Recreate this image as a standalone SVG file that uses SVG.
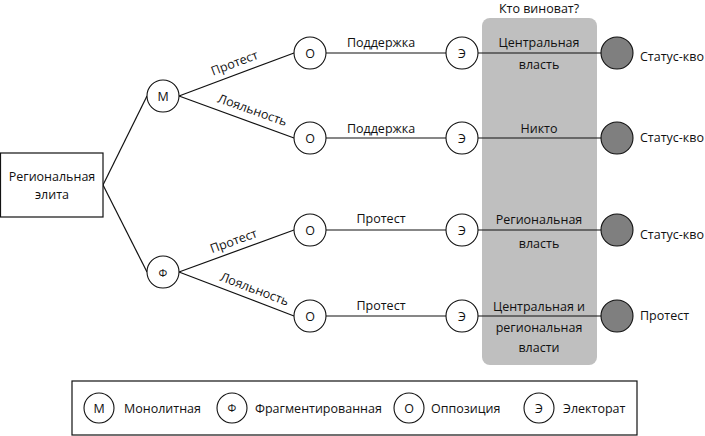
<svg xmlns="http://www.w3.org/2000/svg" width="705" height="436" viewBox="0 0 705 436">
<style>
text{font-family:"Open Sans","Noto Sans","DejaVu Sans",sans-serif;font-size:12.5px;fill:#111}
.c{text-anchor:middle}
.n{fill:#fff;stroke:#111;stroke-width:1.1}
.d{fill:#7f7f7f;stroke:#111;stroke-width:1.1}
.l{stroke:#111;stroke-width:1.2;fill:none}
</style>
<rect x="0" y="0" width="705" height="436" fill="#fff"/>
<g id="panel">
<rect x="482" y="18" width="115" height="347" rx="8" fill="#bfbfbf"/>
<text class="c" x="539" y="13">Кто виноват?</text>
</g>
<g id="connectors">
<line class="l" x1="103" y1="185" x2="147" y2="96"/>
<line class="l" x1="103" y1="185" x2="147" y2="272"/>
<line class="l" x1="179" y1="96" x2="294" y2="53"/>
<line class="l" x1="179" y1="96" x2="294" y2="138"/>
<line class="l" x1="179" y1="272" x2="294" y2="230"/>
<line class="l" x1="179" y1="272" x2="294" y2="316"/>
<line class="l" x1="326" y1="53" x2="446" y2="53"/>
<line class="l" x1="326" y1="138" x2="446" y2="138"/>
<line class="l" x1="326" y1="230" x2="446" y2="230"/>
<line class="l" x1="326" y1="316" x2="446" y2="316"/>
<line class="l" x1="478" y1="53" x2="601" y2="53"/>
<line class="l" x1="478" y1="138" x2="601" y2="138"/>
<line class="l" x1="478" y1="230" x2="601" y2="230"/>
<line class="l" x1="478" y1="316" x2="601" y2="316"/>
<text class="c" transform="translate(236,67) rotate(-20.8)">Протест</text>
<text class="c" transform="translate(251,114) rotate(19.5)">Лояльность</text>
<text class="c" transform="translate(235,245) rotate(-19.9)">Протест</text>
<text class="c" transform="translate(253,293) rotate(20.8)">Лояльность</text>
<text class="c" x="381" y="47">Поддержка</text>
<text class="c" x="381" y="133">Поддержка</text>
<text class="c" x="381" y="223">Протест</text>
<text class="c" x="381" y="310">Протест</text>
</g>
<g id="root">
<rect x="0.5" y="153" width="102.5" height="64" fill="#fff" stroke="#111" stroke-width="1.2"/>
<text class="c" x="52" y="181">Региональная</text>
<text class="c" x="52" y="199">элита</text>
</g>
<g id="m"><circle class="n" cx="163" cy="96" r="16"/><text class="c" x="163" y="100.5">М</text></g>
<g id="f"><circle class="n" cx="163" cy="272" r="16"/><text class="c" x="163" y="276.5" style="font-size:11px">Ф</text></g>
<g id="o1"><circle class="n" cx="310" cy="53" r="16"/><text class="c" x="310" y="57.5">О</text></g>
<g id="o2"><circle class="n" cx="310" cy="138" r="16"/><text class="c" x="310" y="142.5">О</text></g>
<g id="o3"><circle class="n" cx="310" cy="230" r="16"/><text class="c" x="310" y="234.5">О</text></g>
<g id="o4"><circle class="n" cx="310" cy="316" r="16"/><text class="c" x="310" y="320.5">О</text></g>
<g id="e1"><circle class="n" cx="462" cy="53" r="16"/><text class="c" x="462" y="57.5">Э</text></g>
<g id="e2"><circle class="n" cx="462" cy="138" r="16"/><text class="c" x="462" y="142.5">Э</text></g>
<g id="e3"><circle class="n" cx="462" cy="230" r="16"/><text class="c" x="462" y="234.5">Э</text></g>
<g id="e4"><circle class="n" cx="462" cy="316" r="16"/><text class="c" x="462" y="320.5">Э</text></g>
<g id="blame1"><text class="c" x="539" y="47">Центральная</text><text class="c" x="539" y="69">власть</text></g>
<g id="blame2"><text class="c" x="539" y="133">Никто</text></g>
<g id="blame3"><text class="c" x="539" y="224">Региональная</text><text class="c" x="539" y="248">власть</text></g>
<g id="blame4"><text class="c" x="539" y="311">Центральная и</text><text class="c" x="539" y="332">региональная</text><text class="c" x="539" y="352">власти</text></g>
<g id="out1"><circle class="d" cx="617" cy="53" r="16"/><text x="640" y="61">Статус-кво</text></g>
<g id="out2"><circle class="d" cx="617" cy="138" r="16"/><text x="640" y="142">Статус-кво</text></g>
<g id="out3"><circle class="d" cx="617" cy="230" r="16"/><text x="640" y="239">Статус-кво</text></g>
<g id="out4"><circle class="d" cx="617" cy="316" r="16"/><text x="640" y="320">Протест</text></g>
<g id="legend">
<rect x="72" y="381" width="565" height="54" fill="#fff" stroke="#111" stroke-width="1.2"/>
<circle class="n" cx="99" cy="408" r="15"/><text class="c" x="99" y="412.5">М</text><text x="124" y="412.5">Монолитная</text>
<circle class="n" cx="232" cy="408" r="15"/><text class="c" x="232" y="412" style="font-size:11px">Ф</text><text x="255" y="412.5">Фрагментированная</text>
<circle class="n" cx="409" cy="408" r="15"/><text class="c" x="409" y="412.5">О</text><text x="431" y="412.5">Оппозиция</text>
<circle class="n" cx="539" cy="408" r="15"/><text class="c" x="539" y="412.5">Э</text><text x="563" y="412.5">Электорат</text>
</g>
</svg>
